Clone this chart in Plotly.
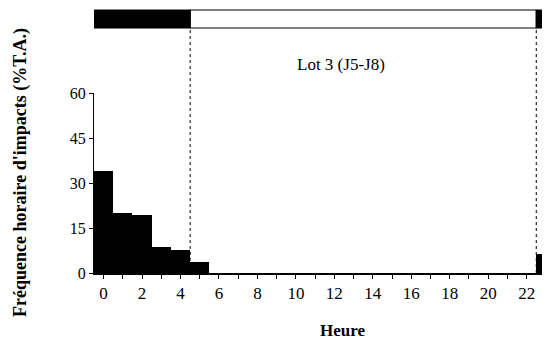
import plotly.graph_objects as go

hours = list(range(24))
freq = [34, 20, 19.5, 8.7, 7.8, 3.8] + [0]*17 + [6.3]
x_tickvals = list(range(0, 24))
x_ticktext = [str(h) if h % 2 == 0 and h <= 22 else "" for h in x_tickvals]
y_tickvals = [0, 15, 30, 45, 60]
dark_periods = [(-0.5, 4.5), (22.5, 24.0)]
light_periods = [(4.5, 22.5)]
dotted_x = [4.5, 22.5]
label_text = "Lot 3 (J5-J8)"

SERIF = "Liberation Serif"

fig = go.Figure()
fig.add_trace(go.Bar(x=hours, y=freq, marker=dict(color="black", line=dict(width=0)), width=1.0))

shapes = []
for a, b in light_periods:
    shapes.append(dict(type="rect", xref="x", yref="paper", x0=a, x1=b, y0=1.361, y1=1.461,
                       fillcolor="white", line=dict(color="black", width=1.2)))
for a, b in dark_periods:
    shapes.append(dict(type="rect", xref="x", yref="paper", x0=a, x1=b, y0=1.361, y1=1.461,
                       fillcolor="black", line=dict(color="black", width=1)))
for xv in dotted_x:
    shapes.append(dict(type="line", xref="x", yref="paper", x0=xv, x1=xv, y0=0, y1=1.361,
                       line=dict(color="black", width=1, dash="dot")))

fig.update_layout(
    width=550, height=340,
    margin=dict(l=86, r=0, t=85, b=75, autoexpand=False),
    plot_bgcolor="white", paper_bgcolor="white",
    bargap=0, showlegend=False,
    shapes=shapes,
    font=dict(family=SERIF, color="black", size=16),
    annotations=[
        dict(text=label_text, xref="paper", yref="paper", x=(333-86)/464, y=1.156,
             xanchor="center", yanchor="middle", showarrow=False,
             font=dict(family=SERIF, size=17, color="black")),
        dict(text="<b>Heure</b>", xref="paper", yref="paper", x=(334-86)/464, y=-0.322,
             xanchor="center", yanchor="middle",
             showarrow=False, font=dict(family=SERIF, size=17, color="black")),
        dict(text="<b>Fréquence horaire d'impacts (%T.A.)</b>", xref="paper", yref="paper",
             x=(13-86)/464, y=0.556, xanchor="center", yanchor="middle",
             showarrow=False, textangle=-90,
             font=dict(family=SERIF, size=18, color="black")),
    ],
)
fig.update_xaxes(range=[-0.5, 23.63], tickvals=x_tickvals, ticktext=x_ticktext,
                 ticks="outside", ticklen=4, tickwidth=1, tickcolor="black",
                 showline=True, linecolor="black", linewidth=1.5,
                 showgrid=False, zeroline=False, tickfont=dict(family=SERIF, size=17))
fig.update_yaxes(range=[0, 60], tickvals=y_tickvals, ticks="outside", ticklen=4,
                 tickwidth=1, tickcolor="black", showline=True, linecolor="black",
                 linewidth=1, showgrid=False, zeroline=False,
                 tickfont=dict(family=SERIF, size=16))

fig.write_html("out.html")
